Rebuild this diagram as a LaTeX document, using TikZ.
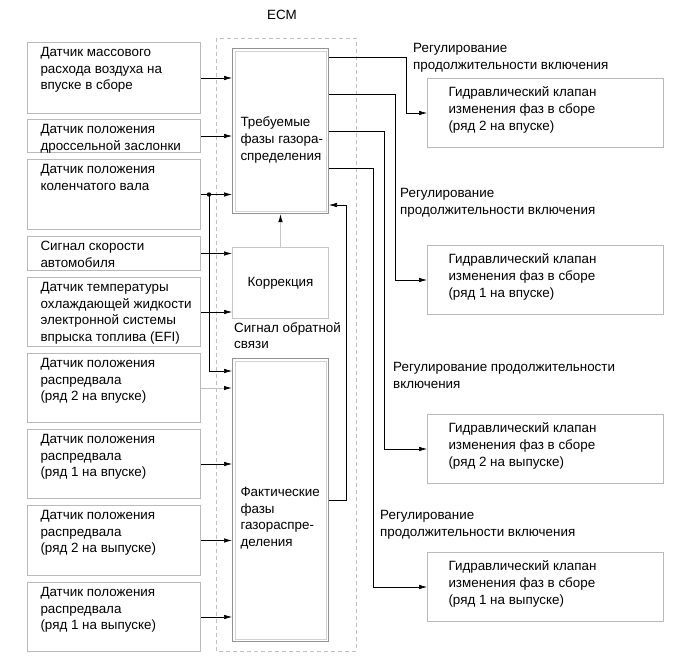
\documentclass[tikz,border=0pt]{standalone}
\usepackage{fontspec}
\setmainfont{Liberation Sans}
\usepackage{tikz}
\usetikzlibrary{arrows.meta}
\newcommand{\celltext}[5]{\parbox[t][#2pt][t]{#1pt}{\raggedright\leftskip=#3pt\vspace*{#4pt}#5}}
\newcommand{\sens}[2]{\celltext{173}{#1}{13}{4.5}{#2}}
\newcommand{\valv}[1]{\celltext{236}{69}{21}{8.5}{#1}}

\begin{document}
\begin{tikzpicture}[x=1pt, y=-1pt, font=\fontsize{13.4}{16.8}\selectfont,
  sensor/.style={draw=gray!55, line width=1pt, anchor=north west, inner sep=0pt},
  ecm/.style={draw=gray!85, line width=1pt, anchor=north west, inner sep=0pt},
  lbl/.style={anchor=north west, align=left, inner sep=0pt},
  sig/.style={-{Latex[length=8pt, width=4.5pt]}, line width=0.6pt}]
\useasboundingbox (0,0) rectangle (690,659);
\draw[gray!50, line width=1pt, dash pattern=on 4pt off 3pt] (216,38) rectangle (356,651);
\node (ecml) at (282,15) {ECM};
\node[sensor] (s1) at (27,42) {\sens{71}{Датчик массового\\расхода воздуха на\\впуске в сборе}};
\node[sensor] (s2) at (27,119) {\sens{33}{Датчик положения\\дроссельной заслонки}};
\node[sensor] (s3) at (27,159) {\sens{70}{Датчик положения\\коленчатого вала}};
\node[sensor] (s4) at (27,236) {\sens{34}{Сигнал скорости\\автомобиля}};
\node[sensor] (s5) at (27,277) {\sens{69}{Датчик температуры\\охлаждающей жидкости\\электронной системы\\впрыска топлива (EFI)}};
\node[sensor] (s6) at (27,353) {\sens{69}{Датчик положения\\распредвала\\(ряд 2 на впуске)}};
\node[sensor] (s7) at (27,429) {\sens{69}{Датчик положения\\распредвала\\(ряд 1 на впуске)}};
\node[sensor] (s8) at (27,505) {\sens{70}{Датчик положения\\распредвала\\(ряд 2 на выпуске)}};
\node[sensor] (s9) at (27,582) {\sens{69}{Датчик положения\\распредвала\\(ряд 1 на выпуске)}};
\node[ecm] (req) at (232,48) {\celltext{96}{165}{8}{68.5}{Требуемые\\фазы газора-\\спределения}};
\node[draw=gray!45, line width=1pt, minimum width=96pt, minimum height=71pt, anchor=north west] (corr) at (232,247) {Коррекция};
\node[ecm] (act) at (232,358) {\celltext{96}{283}{8}{128.5}{Фактические\\фазы\\газораспре-\\деления}};
\foreach \b in {req,act}
  \draw[gray!35, line width=1pt] ([shift={(3,3)}]\b.north west) rectangle ([shift={(-3,-3)}]\b.south east);
\node[lbl] (fbl) at (234,322) {Сигнал обратной\\связи};
\node[sensor] (v1) at (427,78) {\valv{Гидравлический клапан\\изменения фаз в сборе\\(ряд 2 на впуске)}};
\node[sensor] (v2) at (427,245) {\valv{Гидравлический клапан\\изменения фаз в сборе\\(ряд 1 на впуске)}};
\node[sensor] (v3) at (427,414) {\valv{Гидравлический клапан\\изменения фаз в сборе\\(ряд 2 на выпуске)}};
\node[sensor] (v4) at (427,552) {\valv{Гидравлический клапан\\изменения фаз в сборе\\(ряд 1 на выпуске)}};
\node[lbl] (r1) at (413,43) {Регулирование\\продолжительности включения};
\node[lbl] (r2) at (400,188) {Регулирование\\продолжительности включения};
\node[lbl] (r3) at (393,362) {Регулирование продолжительности\\включения};
\node[lbl] (r4) at (380,510) {Регулирование\\продолжительности включения};
\foreach \s in {s1,s2,s3}
  \draw[sig] (\s.east) -- (\s.east -| req.west);
\foreach \s in {s4,s5}
  \draw[sig] (\s.east) -- (\s.east -| corr.west);
\foreach \s in {s7,s8,s9}
  \draw[sig] (\s.east) -- (\s.east -| act.west);
\draw[sig, gray!50, line width=1pt, -{Latex[length=8pt, width=4.5pt, color=black]}] (s6.east) -- (s6.east -| act.west);
\coordinate (jn) at ([xshift=8pt]s3.east);
\fill (jn) circle (2.2pt);
\draw[sig] (jn) |- ([yshift=-13pt]act.north west);
\draw[sig, gray!45, line width=1pt, -{Latex[length=8pt, width=4.5pt, color=black]}] (corr.north) -- (req.south);
\draw[sig] (act.east) -- ++(17,0) |- ([yshift=9pt]req.south east);
\draw[sig] ([yshift=-9pt]req.north east) -| ([xshift=-21pt]v1.west) -- (v1.west);
\draw[sig] ([yshift=-46pt]req.north east) -| ([xshift=-32pt]v2.west) -- (v2.west);
\draw[sig] ([yshift=-83pt]req.north east) -| ([xshift=-43pt]v3.west) -- (v3.west);
\draw[sig] ([yshift=-120pt]req.north east) -| ([xshift=-54pt]v4.west) -- (v4.west);
\end{tikzpicture}
\end{document}
